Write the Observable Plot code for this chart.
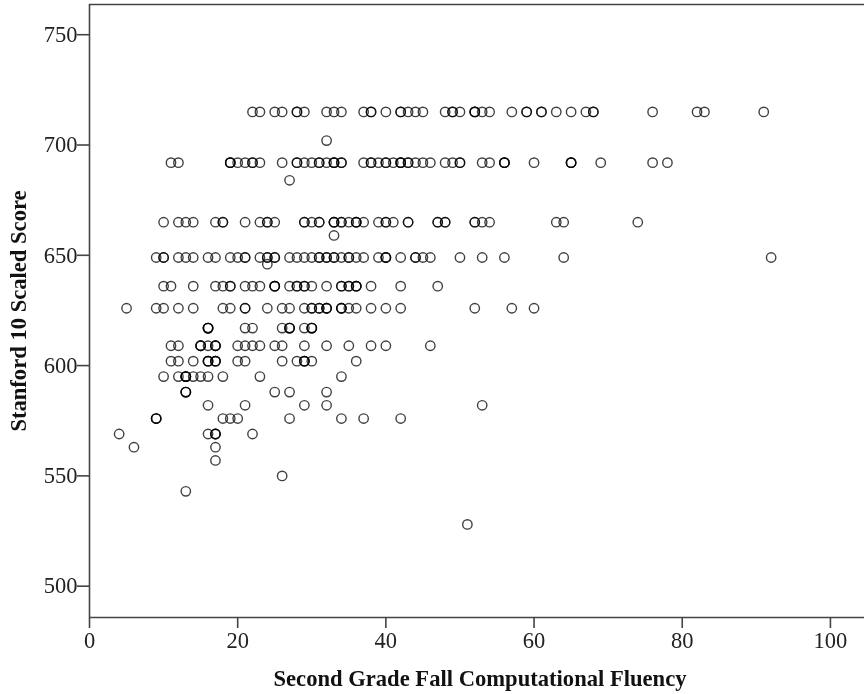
<!DOCTYPE html>
<html>
<head>
<meta charset="utf-8">
<script src="https://cdn.jsdelivr.net/npm/d3@7"></script>
<script src="https://cdn.jsdelivr.net/npm/@observablehq/plot@0.6"></script>
<style>
html,body{margin:0;padding:0;background:#fff;}
svg{display:block;filter:blur(0.4px);}
[aria-label="x-axis label"] text,[aria-label="y-axis label"] text{font-weight:bold;font-size:22.6px;fill:#111;}
</style>
</head>
<body>
<div id="chart"></div>
<script>
const xLabel = "Second Grade Fall Computational Fluency";
const yLabel = "Stanford 10 Scaled Score";
const xTicks = [0,20,40,60,80,100];
const yTicks = [500,550,600,650,700,750];

const s715 = [22,23,25,26,28,28,29,32,33,34,37,38,38,40,42,42,43,44,45,48,49,49,50,52,52,52,53,54,57,59,59,61,61,63,65,67,68,68,76,82,83,91];
const s702 = [32];
const s692 = [11,12,19,19,19,20,21,22,22,23,26,28,28,29,30,31,31,32,33,33,33,34,34,37,38,38,39,40,40,41,42,42,42,43,43,44,45,46,48,49,50,50,53,54,56,56,56,60,65,65,65,69,76,78];
const s684 = [27];
const s665 = [10,12,13,14,17,18,18,21,23,24,24,25,29,29,30,31,31,33,33,33,34,34,35,36,36,36,37,39,40,40,41,43,43,47,47,48,48,52,52,53,54,63,64,74];
const s659 = [33];
const s649 = [9,10,10,12,13,14,16,17,19,20,21,21,23,24,24,25,25,27,28,29,30,31,31,32,32,33,33,34,35,35,36,37,39,40,40,40,42,44,44,45,46,50,53,56,64,92];
const s646 = [24];
const s636 = [10,11,14,17,18,19,19,21,22,23,25,25,25,27,28,28,29,29,30,32,34,34,35,35,36,36,36,38,42,47];
const s626 = [5,9,10,12,14,18,19,21,21,24,26,27,29,30,30,31,31,32,32,32,34,34,34,35,36,38,40,42,52,57,60];
const s617 = [16,16,16,16,21,22,26,27,27,27,29,30,30,30];
const s609 = [11,12,15,15,15,16,17,17,17,20,21,22,23,25,26,29,32,35,38,40,46];
const s602 = [11,12,14,16,16,16,17,17,17,20,21,26,28,29,29,29,30,36];
const s595 = [10,12,13,13,13,13,14,15,16,18,23,34];
const s588 = [13,13,13,25,27,32];
const s582 = [16,21,29,32,53];
const s576 = [9,9,9,18,19,20,27,34,37,42];
const s569 = [4,16,17,17,17,22];
const s563 = [6,17];
const s557 = [17];
const s550 = [26];
const s543 = [13];
const s528 = [51];

const rows = [[715,s715],[702,s702],[692,s692],[684,s684],[665,s665],[659,s659],[649,s649],[646,s646],[636,s636],[626,s626],[617,s617],[609,s609],[602,s602],[595,s595],[588,s588],[582,s582],[576,s576],[569,s569],[563,s563],[557,s557],[550,s550],[543,s543],[528,s528]];
const points = rows.flatMap(([score, xs]) => xs.map(x => ({x, score})));

const xDomain = [0,104.6];
const yDomain = [485.8,763.7];
const font = "'Liberation Serif', serif";
const axisColor = "#444";

const chart = Plot.plot({
  width: 864,
  height: 694,
  marginLeft: 89,
  marginRight: 0,
  marginTop: 4,
  marginBottom: 77,
  style: {background:"#fff", fontFamily: font},
  x: {domain: xDomain},
  y: {domain: yDomain},
  marks: [
    Plot.ruleY([yDomain[1]], {stroke: axisColor, strokeWidth: 1.6}),
    Plot.ruleY([yDomain[0]], {stroke: axisColor, strokeWidth: 1.6}),
    Plot.ruleX([0], {stroke: axisColor, strokeWidth: 1.6}),
    Plot.axisX({ticks: xTicks, tickSize: 11, tickPadding: 4, fontSize: 22.5, stroke: axisColor, strokeWidth: 1.6, color: "#222", label: xLabel, labelAnchor: "center", labelArrow: "none", labelOffset: 68, tickFormat: d => d}),
    Plot.axisY({ticks: yTicks, tickSize: 12, tickPadding: 0, fontSize: 22.5, stroke: axisColor, strokeWidth: 1.6, color: "#222", label: yLabel, labelAnchor: "center", labelArrow: "none", labelOffset: 80, tickFormat: d => d}),
    Plot.dot(points, {x: "x", y: "score", r: 4.7, stroke: "#000", strokeOpacity: 0.75, strokeWidth: 1.4, fill: "none"})
  ]
});
d3.select(chart).select('[aria-label="x-axis label"] text').attr("dx", 3);
document.getElementById("chart").appendChild(chart);
</script>
</body>
</html>
